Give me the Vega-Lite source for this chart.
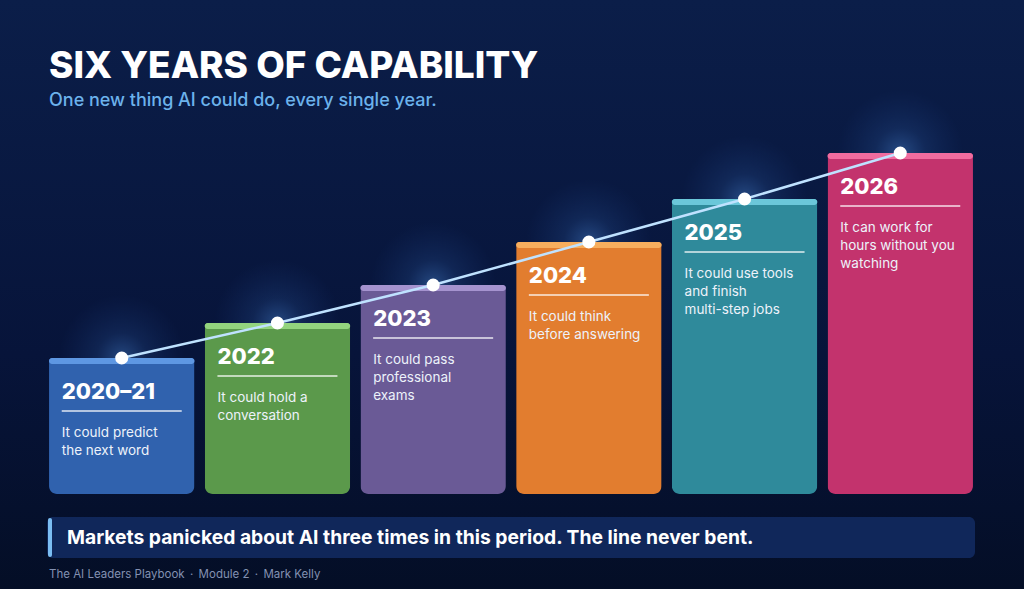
{
  "$schema": "https://vega.github.io/schema/vega-lite/v6.json",
  "description": "Six years of AI capability, one step per year",
  "width": 1024,
  "height": 589,
  "autosize": "none",
  "padding": 0,
  "background": "#081737",
  "title": {
    "text": "SIX YEARS OF CAPABILITY",
    "subtitle": "One new thing AI could do, every single year.",
    "anchor": "start",
    "frame": "group",
    "orient": "top",
    "offset": -111,
    "dx": 49,
    "font": "Inter",
    "fontSize": 37,
    "fontWeight": 800,
    "color": "#ffffff",
    "subtitleFont": "Inter",
    "subtitleFontSize": 18,
    "subtitleFontWeight": 500,
    "subtitleColor": "#6cb2ec",
    "subtitlePadding": 6
  },
  "datasets": {
    "years": [
      {"period": "2020–21", "level": 136, "ability": "It could predict\nthe next word"},
      {"period": "2022", "level": 171, "ability": "It could hold a\nconversation"},
      {"period": "2023", "level": 209, "ability": "It could pass\nprofessional\nexams"},
      {"period": "2024", "level": 252, "ability": "It could think\nbefore answering"},
      {"period": "2025", "level": 295, "ability": "It could use tools\nand finish\nmulti-step jobs"},
      {"period": "2026", "level": 341, "ability": "It can work for\nhours without you\nwatching"}
    ],
    "note": [
      {"line": "Markets panicked about AI three times in this period. The line never bent.", "footer": "The AI Leaders Playbook \u2009·\u2009 Module 2 \u2009·\u2009 Mark Kelly"}
    ]
  },
  "config": {
    "view": {"stroke": null},
    "axis": {"disable": true},
    "legend": {"disable": true}
  },
  "resolve": {"scale": {"x": "independent", "color": "independent"}},
  "layer": [
    {
      "data": {"values": [{}]},
      "mark": {
        "type": "rect",
        "fill": {
          "gradient": "linear",
          "x1": 0, "y1": 0, "x2": 0, "y2": 1,
          "stops": [
            {"offset": 0, "color": "#0b1e49"},
            {"offset": 0.6, "color": "#07143a"},
            {"offset": 1, "color": "#040e26"}
          ]
        }
      },
      "encoding": {
        "x": {"value": 0},
        "x2": {"value": "width"},
        "y": {"value": 0},
        "y2": {"value": "height"}
      }
    },
    {
      "data": {"name": "years"},
      "resolve": {"scale": {"color": "independent"}},
      "encoding": {
        "x": {
          "field": "period",
          "type": "nominal",
          "sort": null,
          "scale": {
            "domain": ["2020–21", "2022", "2023", "2024", "2025", "2026"],
            "range": [47, 975],
            "paddingInner": 0.066,
            "paddingOuter": 0.013
          }
        },
        "y": {
          "field": "level",
          "type": "quantitative",
          "scale": {"domain": [-95, 494], "nice": false, "zero": false}
        }
      },
      "layer": [
        {
          "mark": {
            "type": "point",
            "shape": "circle",
            "filled": true,
            "size": 16000,
            "opacity": 1,
            "fill": {
              "gradient": "radial",
              "x1": 0.5, "y1": 0.5, "r1": 0,
              "x2": 0.5, "y2": 0.5, "r2": 0.5,
              "stops": [
                {"offset": 0, "color": "rgba(80,145,225,0.42)"},
                {"offset": 0.4, "color": "rgba(60,120,205,0.16)"},
                {"offset": 1, "color": "rgba(40,90,180,0)"}
              ]
            }
          }
        },
        {
          "mark": {
            "type": "bar",
            "cornerRadiusTopLeft": 3,
            "cornerRadiusTopRight": 3,
            "cornerRadiusBottomLeft": 8,
            "cornerRadiusBottomRight": 8
          },
          "encoding": {
            "color": {
              "field": "period",
              "type": "nominal",
              "scale": {
                "domain": ["2020–21", "2022", "2023", "2024", "2025", "2026"],
                "range": ["#3062ae", "#5b994b", "#6a5a96", "#e27d2f", "#2f8a9b", "#c3336d"]
              }
            }
          }
        },
        {
          "mark": {
            "type": "tick",
            "thickness": 6,
            "size": 145.5,
            "yOffset": 3,
            "cornerRadius": 3,
            "opacity": 1
          },
          "encoding": {
            "fill": {
              "field": "period",
              "type": "nominal",
              "scale": {
                "domain": ["2020–21", "2022", "2023", "2024", "2025", "2026"],
                "range": ["#5e97e2", "#93d47e", "#a593cf", "#f7ae5e", "#6bc7da", "#f06c9f"]
              }
            }
          }
        },
        {
          "mark": {
            "type": "tick",
            "thickness": 1.5,
            "size": 120,
            "yOffset": 53,
            "color": "#ffffff",
            "opacity": 0.85
          }
        },
        {
          "mark": {
            "type": "text",
            "align": "left",
            "baseline": "middle",
            "dx": -60,
            "dy": 34,
            "font": "Inter",
            "fontSize": 22,
            "fontWeight": 800,
            "color": "#ffffff"
          },
          "encoding": {"text": {"field": "period"}}
        },
        {
          "mark": {
            "type": "text",
            "align": "left",
            "baseline": "top",
            "dx": -60,
            "dy": 68,
            "lineBreak": "\n",
            "lineHeight": 18,
            "font": "Inter",
            "fontSize": 13.5,
            "fontWeight": 400,
            "color": "#edf2fa"
          },
          "encoding": {"text": {"field": "ability"}}
        },
        {
          "mark": {"type": "line", "color": "#bfe2ff", "strokeWidth": 2.5},
          "encoding": {}
        },
        {
          "mark": {
            "type": "point",
            "shape": "circle",
            "filled": true,
            "size": 170,
            "opacity": 1,
            "color": "#ffffff"
          }
        }
      ]
    },
    {
      "data": {"name": "note"},
      "encoding": {
        "x": {
          "datum": 0,
          "type": "quantitative",
          "scale": {"domain": [0, 1], "range": [47, 975], "nice": false, "zero": false}
        }
      },
      "layer": [
        {
          "mark": {"type": "rect", "color": "#10275a", "cornerRadius": 6},
          "encoding": {
            "x2": {"datum": 1},
            "y": {"datum": -23, "type": "quantitative"},
            "y2": {"datum": -64}
          }
        },
        {
          "mark": {"type": "rule", "color": "#7bbdf2", "strokeWidth": 4, "xOffset": 3, "strokeCap": "round"},
          "encoding": {
            "y": {"datum": -26, "type": "quantitative"},
            "y2": {"datum": -61}
          }
        },
        {
          "mark": {
            "type": "text",
            "align": "left",
            "baseline": "middle",
            "dx": 20,
            "font": "Inter",
            "fontSize": 19.3,
            "fontWeight": 700,
            "color": "#ffffff"
          },
          "encoding": {
            "y": {"datum": -44, "type": "quantitative"},
            "text": {"field": "line"}
          }
        },
        {
          "mark": {
            "type": "text",
            "align": "left",
            "baseline": "middle",
            "dx": 2,
            "font": "Inter",
            "fontSize": 11.5,
            "color": "#8391b2"
          },
          "encoding": {
            "y": {"datum": -81, "type": "quantitative"},
            "text": {"field": "footer"}
          }
        }
      ]
    }
  ]
}
